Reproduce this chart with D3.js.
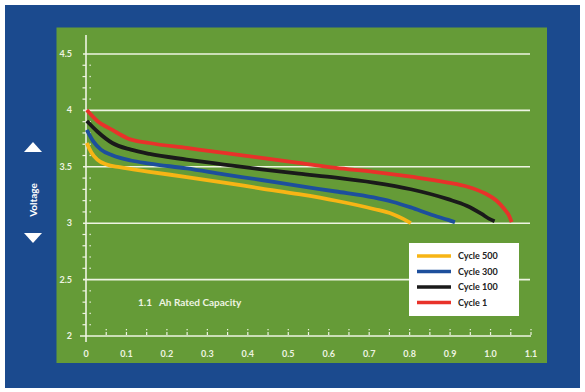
<!DOCTYPE html>
<html><head><meta charset="utf-8">
<script src="https://cdn.jsdelivr.net/npm/d3@7"></script>
<style>body{margin:0;background:#fff}svg{display:block}</style>
</head><body>
<svg id="c" width="585" height="392"></svg>
<script>
const seriesNames = ["Cycle 500","Cycle 300","Cycle 100","Cycle 1"];
const seriesColors = ["#f7b515","#1d4f9c","#1a1a1a","#e8322a"];
const xTickLabels = ["0","0.1","0.2","0.3","0.4","0.5","0.6","0.7","0.8","0.9","1.0","1.1"];
const yTickLabels = ["2","2.5","3","3.5","4","4.5"];
const cycle500 = [[0.002,3.711],[0.014,3.623],[0.028,3.564],[0.051,3.520],[0.083,3.497],[0.157,3.456],[0.249,3.409],[0.341,3.360],[0.434,3.307],[0.526,3.257],[0.618,3.199],[0.711,3.126],[0.757,3.082],[0.784,3.038],[0.803,3.0]];
const cycle300 = [[0.002,3.827],[0.018,3.725],[0.037,3.652],[0.065,3.602],[0.111,3.556],[0.157,3.529],[0.249,3.485],[0.341,3.433],[0.434,3.383],[0.526,3.330],[0.618,3.281],[0.711,3.228],[0.757,3.190],[0.803,3.140],[0.849,3.082],[0.895,3.029],[0.912,3.009]];
const cycle100 = [[0.002,3.906],[0.028,3.813],[0.065,3.711],[0.111,3.652],[0.157,3.614],[0.249,3.564],[0.341,3.520],[0.434,3.477],[0.526,3.439],[0.618,3.404],[0.711,3.360],[0.803,3.301],[0.895,3.213],[0.941,3.155],[0.978,3.082],[0.997,3.038],[1.010,3.018]];
const cycle1 = [[0.002,4.003],[0.028,3.906],[0.065,3.827],[0.102,3.754],[0.157,3.711],[0.249,3.667],[0.341,3.623],[0.434,3.579],[0.526,3.535],[0.618,3.491],[0.711,3.456],[0.803,3.412],[0.895,3.360],[0.941,3.325],[0.987,3.263],[1.015,3.199],[1.034,3.126],[1.047,3.058],[1.052,3.009]];
const seriesData = [cycle500, cycle300, cycle100, cycle1];
const annotation = "1.1   Ah Rated Capacity";
const yTitle = "Voltage";

const svg = d3.select("#c");
const font = "Lato, 'Open Sans', sans-serif";
const light = "#eef4e2";

svg.append("rect").attr("x",5).attr("y",5).attr("width",575).attr("height",383).attr("fill","#1b4a8e");
svg.append("rect").attr("x",56.5).attr("y",27.5).attr("width",490.5).attr("height",335.5).attr("fill","#659b37");

const x = d3.scaleLinear().domain([0,1.1]).range([86,531]);
const y = d3.scaleLinear().domain([2,4.5]).range([336,54]);

svg.append("g").selectAll("line").data([2.5,3,3.5,4,4.5]).join("line")
  .attr("x1",83).attr("x2",530).attr("y1",d=>y(d)).attr("y2",d=>y(d))
  .attr("stroke",light).attr("stroke-width",1.6);

svg.append("line").attr("x1",x(0)).attr("x2",x(0)).attr("y1",35).attr("y2",342)
  .attr("stroke",light).attr("stroke-width",1.6);
svg.append("line").attr("x1",80).attr("x2",x(1.1)).attr("y1",y(2)).attr("y2",y(2))
  .attr("stroke",light).attr("stroke-width",1.6);

const yMinor = d3.range(21,45).map(v=>v/10).filter(v=>Math.abs(v*2-Math.round(v*2))>0.01);
svg.append("g").selectAll("line").data(yMinor).join("line")
  .attr("x1",82.5).attr("x2",86).attr("y1",d=>y(d)).attr("y2",d=>y(d))
  .attr("stroke",light).attr("stroke-width",1.2);
svg.append("g").selectAll("rect").data(yMinor).join("rect")
  .attr("x",89.5).attr("y",d=>y(d)-0.7).attr("width",1.3).attr("height",1.3).attr("fill",light);

const xMinor = d3.range(1,23).map(v=>v*0.05);
svg.append("g").selectAll("line").data(xMinor).join("line")
  .attr("x1",d=>x(d)).attr("x2",d=>x(d)).attr("y1",y(2)-1).attr("y2",y(2)-4)
  .attr("stroke",light).attr("stroke-width",1.2);
svg.append("g").selectAll("rect").data(xMinor).join("rect")
  .attr("x",d=>x(d)-0.6).attr("y",y(2)-7).attr("width",1.2).attr("height",1.3).attr("fill",light);

svg.append("g").selectAll("text").data(yTickLabels).join("text")
  .attr("x",72).attr("y",d=>y(+d)+3).attr("text-anchor","end")
  .attr("font-family",font).attr("font-size",9).attr("font-weight","bold").attr("fill",light).text(d=>d);
svg.append("g").selectAll("text").data(xTickLabels).join("text")
  .attr("x",d=>x(+d)).attr("y",357).attr("text-anchor","middle")
  .attr("font-family",font).attr("font-size",9).attr("font-weight","bold").attr("fill",light).text(d=>d);

const line = d3.line().x(d=>x(d[0])).y(d=>y(d[1])).curve(d3.curveMonotoneX);
svg.append("g").selectAll("path").data(seriesData).join("path")
  .attr("d",line).attr("fill","none").attr("stroke",(d,i)=>seriesColors[i])
  .attr("stroke-width",3.8).attr("stroke-linecap","butt").attr("stroke-linejoin","round");

svg.append("text").attr("x",138).attr("y",306).attr("font-family",font).attr("font-size",10)
  .attr("font-weight","bold").attr("fill",light).attr("xml:space","preserve").style("white-space","pre").text(annotation);

const lg = svg.append("g");
lg.append("rect").attr("x",409).attr("y",243).attr("width",110).attr("height",73).attr("fill","#ffffff");
seriesNames.forEach((n,i)=>{
  const yy = 256 + i*15.5;
  lg.append("line").attr("x1",417).attr("x2",451).attr("y1",yy).attr("y2",yy)
    .attr("stroke",seriesColors[i]).attr("stroke-width",3.5);
  lg.append("text").attr("x",458).attr("y",yy+3).attr("font-family",font).attr("font-size",9)
    .attr("font-weight","bold").attr("fill","#222").text(n);
});

svg.append("text").attr("transform","translate(37,200) rotate(-90)").attr("text-anchor","middle")
  .attr("font-family",font).attr("font-size",10).attr("font-weight","bold").attr("fill","#ffffff").text(yTitle);
svg.append("path").attr("d","M24,152 L33,142 L42,152 Z").attr("fill","#ffffff");
svg.append("path").attr("d","M24,233 L33,243 L42,233 Z").attr("fill","#ffffff");
</script>
</body></html>
